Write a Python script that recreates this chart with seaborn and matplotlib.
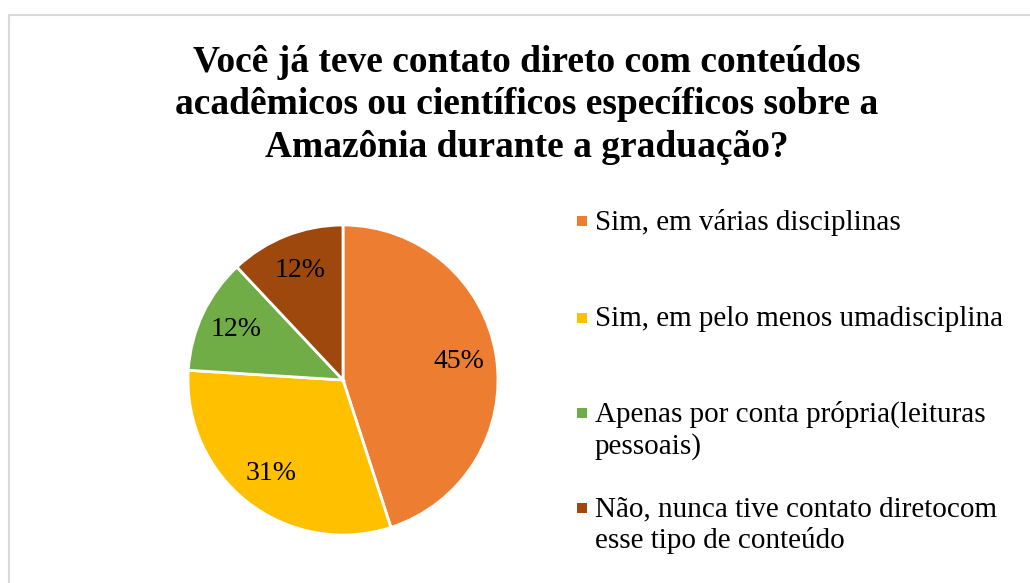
import matplotlib.pyplot as plt
from matplotlib.patches import Rectangle
import seaborn as sns

title = "Você já teve contato direto com conteúdos\nacadêmicos ou científicos específicos sobre a\nAmazônia durante a graduação?"
categories = [
    "Sim, em várias disciplinas",
    "Sim, em pelo menos umadisciplina",
    "Apenas por conta própria(leituras\npessoais)",
    "Não, nunca tive contato diretocom\nesse tipo de conteúdo",
]
percents = [45, 31, 12, 12]
colors = ["#ED7D31", "#FFC000", "#70AD47", "#9E480E"]

sns.set_theme(style="white")
plt.rcParams["font.family"] = ["Liberation Serif", "DejaVu Serif"]

W, H = 1030, 583
fig = plt.figure(figsize=(W / 100, H / 100), dpi=100)

# chart border (cut off on the right and bottom like the original)
fig.patches.append(Rectangle((9 / W, -0.05), 1.1, (H - 15) / H + 0.05,
                             transform=fig.transFigure, fill=False,
                             edgecolor="#d9d9d9", linewidth=1.5))

fig.text(527 / W, 1 - 105 / H, title, ha="center", va="center",
         fontsize=27, fontweight="bold", linespacing=1.28, color="black")

cx, cy, r = 343, 380, 155
half = r * 1.1
ax = fig.add_axes([(cx - half) / W, (H - cy - half) / H, 2 * half / W, 2 * half / H])
wedges, texts, autotexts = ax.pie(
    percents, colors=colors, startangle=90, counterclock=False,
    autopct=lambda p: f"{p:.0f}%", pctdistance=0.76,
    wedgeprops=dict(edgecolor="white", linewidth=2),
    textprops=dict(fontsize=20, color="black"))
ax.set_xlim(-1.1, 1.1)
ax.set_ylim(-1.1, 1.1)
ax.set_aspect("equal")
ax.axis("off")

# legend drawn by hand so wrapped entries line up like the original
legend_y = [221, 318, 413, 508]
for lab, col, y in zip(categories, colors, legend_y):
    fig.patches.append(Rectangle((577 / W, 1 - (y + 5) / H), 10 / W, 10 / H,
                                 transform=fig.transFigure, facecolor=col,
                                 edgecolor="none"))
    fig.text(595 / W, 1 - (y - 12) / H, lab, ha="left", va="top",
             fontsize=21, linespacing=1.22, color="black")

fig.savefig("out.png", dpi=100)
